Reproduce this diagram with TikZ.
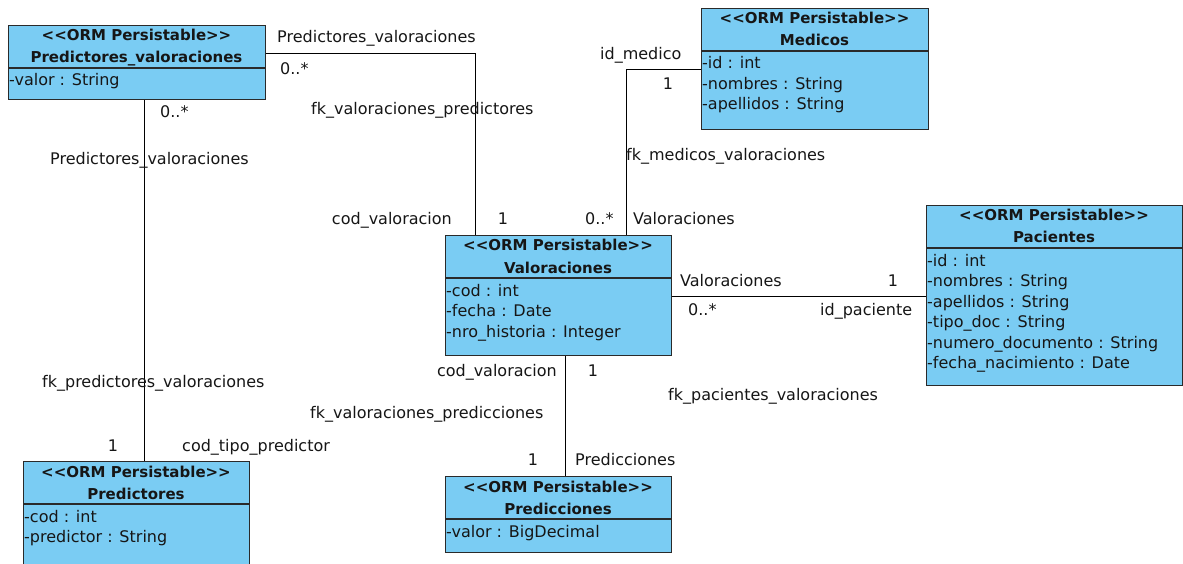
\documentclass[tikz,border=0pt]{standalone}
\usepackage{fontspec}
\setmainfont{DejaVu Sans}
\usetikzlibrary{calc}

\definecolor{classfill}{HTML}{7ACCF3}
\definecolor{classline}{HTML}{2A2A2A}
\definecolor{ink}{HTML}{161616}

\tikzset{
  classbox/.style={draw=classline, fill=classfill, line width=1.1pt, inner sep=0pt, anchor=north west},
  sepline/.style={draw=classline, line width=1.1pt},
  hdr/.style={font=\fontsize{15}{18}\selectfont\bfseries, text=ink, inner sep=0pt, anchor=base},
  attr/.style={font=\fontsize{16}{19}\selectfont, text=ink, inner sep=0pt, anchor=base west},
  lbl/.style={font=\fontsize{16}{19}\selectfont, text=ink, inner sep=0pt, anchor=base west},
  lble/.style={lbl, anchor=base east},
  lblc/.style={lbl, anchor=base},
  assoc/.style={draw=black, line width=1pt},
}

% stereotype text, kept free of the << >> ligatures
\newcommand\ormstereo{<\kern0pt<ORM Persistable>\kern0pt>}

% UML class: name, x1, y1, x2, y2, class name, attribute list
\newcommand\umlclass[7]{%
  \node[classbox, minimum width={(#4-#2)*1pt}, minimum height={(#5-#3)*1pt}] (#1) at (#2,#3) {};
  \pgfmathsetmacro\sepy{#3+43}%
  \pgfmathsetmacro\cx{(#2+#4)/2}%
  \draw[sepline] (#2,\sepy) -- (#4,\sepy);
  \node[hdr] (#1-st) at (\cx,{\sepy-27}) {\ormstereo};
  \node[hdr] (#1-nm) at (\cx,{\sepy-5}) {#6};
  \foreach \a [count=\i] in {#7} {
    \node[attr] (#1-a\i) at ({#2+1},{\sepy+18+(\i-1)*20.5}) {\a};
  }%
}

\begin{document}
\begin{tikzpicture}[x=1pt, y=-1pt]
  \clip (0,0) rectangle (1183,564);
  \fill[white] (0,0) rectangle (1183,564);

  % classes
  \umlclass{pv}{8}{25}{265}{99}{Predictores\_valoraciones}{-valor : String}
  \umlclass{med}{701}{8}{928}{129}{Medicos}{-id : int, -nombres : String, -apellidos : String}
  \umlclass{val}{445}{235}{671}{355}{Valoraciones}{-cod : int, -fecha : Date, -nro\_historia : Integer}
  \umlclass{pac}{926}{205}{1182}{385}{Pacientes}{-id : int, -nombres : String, -apellidos : String, -tipo\_doc : String, -numero\_documento : String, -fecha\_nacimiento : Date}
  \umlclass{pre}{23}{461}{249}{580}{Predictores}{-cod : int, -predictor : String}
  \umlclass{prd}{445}{476}{671}{552}{Predicciones}{-valor : BigDecimal}

  % bend points and routing lines of the associations
  \coordinate (b1) at (475,54);
  \coordinate (b2) at (626,70);
  \coordinate (b3) at (0,296);
  \coordinate (b4) at (144,0);
  \coordinate (b5) at (565,0);

  \draw[assoc] (pv.east |- b1) -- (b1) -- (val.north -| b1);
  \draw[assoc] (med.west |- b2) -- (b2) -- (val.north -| b2);
  \draw[assoc] (val.east |- b3) -- (pac.west |- b3);
  \draw[assoc] (pv.south -| b4) -- (pre.north -| b4);
  \draw[assoc] (val.south -| b5) -- (prd.north -| b5);

  % association labels
  \node[lbl]  (l1)  at (277,43)  {Predictores\_valoraciones};
  \node[lbl]  (l2)  at (280,75)  {0..*};
  \node[lbl]  (l3)  at (311,115) {fk\_valoraciones\_predictores};
  \node[lble] (l4)  at (452,225) {cod\_valoracion};
  \node[lblc] (l5)  at (503,225) {1};
  \node[lbl]  (l6)  at (585,225) {0..*};
  \node[lbl]  (l7)  at (633,225) {Valoraciones};
  \node[lbl]  (l8)  at (600,60)  {id\_medico};
  \node[lblc] (l9)  at (668,90)  {1};
  \node[lbl]  (l10) at (626,161) {fk\_medicos\_valoraciones};
  \node[lbl]  (l11) at (680,286) {Valoraciones};
  \node[lblc] (l12) at (893,286) {1};
  \node[lbl]  (l13) at (688,315) {0..*};
  \node[lbl]  (l14) at (820,315) {id\_paciente};
  \node[lbl]  (l15) at (668,400) {fk\_pacientes\_valoraciones};
  \node[lble] (l16) at (557,376) {cod\_valoracion};
  \node[lblc] (l17) at (593,376) {1};
  \node[lbl]  (l18) at (310,418) {fk\_valoraciones\_predicciones};
  \node[lbl]  (l19) at (182,451) {cod\_tipo\_predictor};
  \node[lblc] (l20) at (113,451) {1};
  \node[lbl]  (l21) at (42,387)  {fk\_predictores\_valoraciones};
  \node[lbl]  (l22) at (160,118) {0..*};
  \node[lbl]  (l23) at (50,165)  {Predictores\_valoraciones};
  \node[lblc] (l24) at (533,465) {1};
  \node[lbl]  (l25) at (575,465) {Predicciones};
\end{tikzpicture}
\end{document}
